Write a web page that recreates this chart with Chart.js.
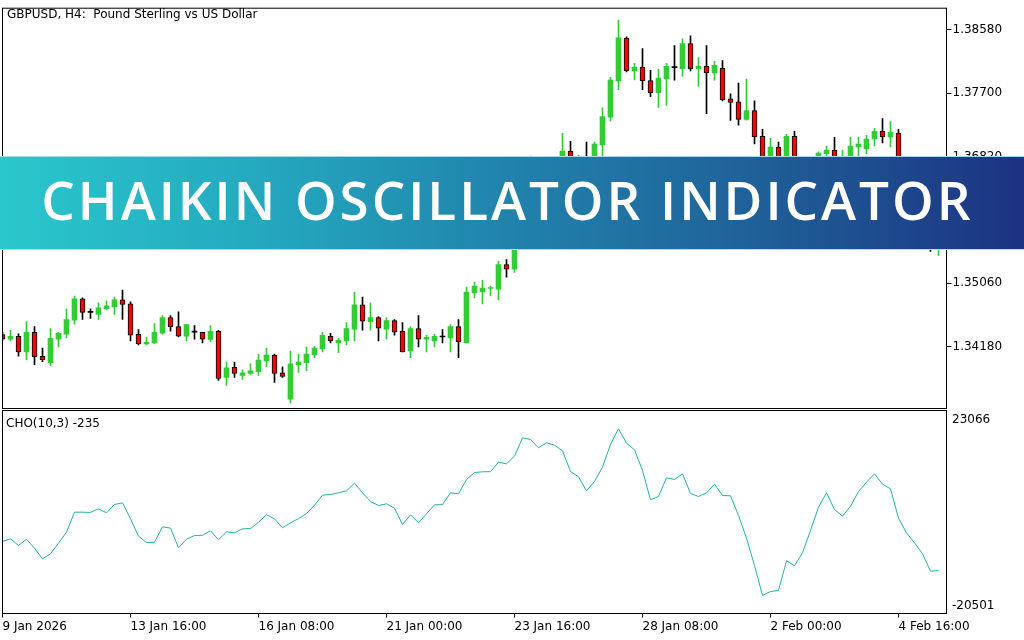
<!DOCTYPE html>
<html>
<head>
<meta charset="utf-8">
<script src="https://cdn.jsdelivr.net/npm/chart.js"></script>
<style>
html,body{margin:0;padding:0;background:#fff;width:1024px;height:640px;overflow:hidden;}
#wrap{position:relative;width:1024px;height:640px;background:#fff;}
canvas{position:absolute;left:0;top:0;}
.lbl{position:absolute;font-family:"DejaVu Sans";font-size:12px;line-height:14px;color:#000;white-space:pre;}
#banner{position:absolute;left:0;top:156px;width:1024px;height:94px;box-sizing:border-box;
  border-top:1px solid #a6d9e3;border-bottom:1px solid #b8d8e6;
  background:linear-gradient(to right,#2ac7cc 0%,#24a9bf 25%,#2182ab 50%,#1f5e97 75%,#1c3282 100%);z-index:5;}
#bannerText{position:absolute;left:44px;top:172px;font-family:"Open Sans";font-weight:600;font-size:53px;line-height:53px;height:53px;color:#fff;white-space:nowrap;z-index:6;}
</style>
</head>
<body>
<div id="wrap">
  <canvas id="main" width="1024" height="640"></canvas>
  <canvas id="sub" width="1024" height="640"></canvas>
  <div class="lbl" style="left:7px;top:7px">GBPUSD, H4:  Pound Sterling vs US Dollar</div>
  <div class="lbl" style="left:6px;top:416px">CHO(10,3) -235</div>
  <div id="banner"></div>
  <div id="bannerText">CHAIKIN OSCILLATOR INDICATOR</div>
</div>
<script>
// ---- data (GBPUSD H4 candles) ----
const opens = [1.34343,1.34282,1.34319,1.34104,1.34374,1.34041,1.33954,1.34282,1.34351,1.34543,
1.34840,1.34652,1.34625,1.34703,1.34730,1.34826,1.34771,1.34347,1.34214,1.34228,
1.34365,1.34580,1.34456,1.34323,1.34378,1.34374,1.34278,1.34388,1.33748,1.33891,
1.33775,1.33803,1.33830,1.33981,1.34059,1.33812,1.33447,1.33926,1.33954,1.34063,
1.34145,1.34319,1.34228,1.34255,1.34419,1.34758,1.34525,1.34580,1.34419,1.34539,
1.34388,1.34118,1.34429,1.34282,1.34255,1.34310,1.34296,1.34456,1.34228,1.34922,
1.34936,1.34985,1.34977,1.35319,1.35255,1.35621,1.35800,1.36450,1.36600,1.36700,
1.36500,1.36895,1.36720,1.36803,1.36785,1.36981,1.37365,1.37872,1.38466,1.38009,
1.38059,1.37877,1.37707,1.37899,1.38055,1.38042,1.38388,1.38042,1.38073,1.37981,
1.38046,1.37621,1.37580,1.37337,1.37457,1.37100,1.36700,1.36950,1.36760,1.37100,
1.36640,1.36740,1.36700,1.36858,1.36909,1.36650,1.36760,1.36954,1.36926,1.37063,
1.37169,1.37091,1.37142,1.36500,1.36200,1.35900,1.35650,1.35550];
const highs = [1.34374,1.34402,1.34356,1.34525,1.34456,1.34155,1.34429,1.34374,1.34703,1.34881,
1.34854,1.34703,1.34785,1.34813,1.34867,1.34963,1.34799,1.34415,1.34306,1.34497,
1.34607,1.34607,1.34662,1.34484,1.34470,1.34374,1.34470,1.34402,1.33963,1.33963,
1.33854,1.33936,1.34073,1.34155,1.34073,1.33895,1.34114,1.34073,1.34169,1.34182,
1.34374,1.34360,1.34292,1.34511,1.34936,1.34867,1.34785,1.34593,1.34580,1.34552,
1.34511,1.34456,1.34607,1.34333,1.34347,1.34415,1.34484,1.34552,1.35004,1.35073,
1.35100,1.35018,1.35361,1.35388,1.35676,1.35850,1.36826,1.36813,1.36785,1.36772,
1.37142,1.37032,1.36840,1.37019,1.37019,1.37498,1.37922,1.38717,1.38484,1.38114,
1.38320,1.38018,1.38032,1.38114,1.38361,1.38457,1.38498,1.38196,1.38361,1.38142,
1.38155,1.37690,1.37840,1.37895,1.37594,1.37196,1.37073,1.37022,1.37128,1.37169,
1.36789,1.36760,1.36885,1.36963,1.37087,1.36909,1.37087,1.37087,1.37114,1.37210,
1.37347,1.37306,1.37196,1.36560,1.36250,1.35980,1.35720,1.35700];
const lows = [1.34265,1.34255,1.34045,1.33995,1.33926,1.33967,1.33912,1.34173,1.34296,1.34488,
1.34556,1.34570,1.34556,1.34689,1.34625,1.34556,1.34255,1.34200,1.34200,1.34214,
1.34351,1.34392,1.34310,1.34255,1.34282,1.34228,1.34241,1.33707,1.33638,1.33748,
1.33721,1.33789,1.33775,1.33899,1.33680,1.33748,1.33392,1.33817,1.33844,1.34022,
1.34104,1.34228,1.34091,1.34200,1.34255,1.34406,1.34406,1.34255,1.34282,1.34337,
1.34104,1.34022,1.34173,1.34104,1.34173,1.34228,1.34104,1.34022,1.34228,1.34854,
1.34771,1.34881,1.34826,1.35141,1.35210,1.35560,1.35700,1.36300,1.36450,1.36400,
1.36420,1.36650,1.36680,1.36700,1.36740,1.36830,1.37310,1.37748,1.37995,1.37885,
1.37748,1.37653,1.37502,1.37529,1.37881,1.37936,1.38009,1.37799,1.37416,1.37881,
1.37594,1.37320,1.37255,1.37324,1.36995,1.36789,1.36600,1.36680,1.36700,1.36700,
1.36560,1.36620,1.36650,1.36800,1.36600,1.36580,1.36700,1.36760,1.36858,1.36968,
1.37009,1.36954,1.36450,1.36100,1.35800,1.35550,1.35500,1.35443];
const closes = [1.34282,1.34319,1.34104,1.34374,1.34036,1.33995,1.34292,1.34360,1.34552,1.34840,
1.34652,1.34652,1.34717,1.34744,1.34826,1.34762,1.34337,1.34214,1.34237,1.34374,
1.34580,1.34452,1.34323,1.34484,1.34378,1.34282,1.34388,1.33734,1.33881,1.33803,
1.33812,1.33840,1.33991,1.34059,1.33803,1.33762,1.33936,1.33963,1.34073,1.34155,
1.34333,1.34255,1.34265,1.34429,1.34758,1.34529,1.34580,1.34433,1.34539,1.34378,
1.34104,1.34429,1.34282,1.34306,1.34319,1.34310,1.34456,1.34241,1.34936,1.35018,
1.34991,1.34991,1.35319,1.35255,1.35621,1.35800,1.36450,1.36600,1.36700,1.36500,
1.36895,1.36720,1.36813,1.36803,1.36991,1.37374,1.37881,1.38470,1.38009,1.38059,
1.37872,1.37707,1.37909,1.38073,1.38055,1.38388,1.38042,1.38073,1.37981,1.38087,
1.37607,1.37570,1.37337,1.37457,1.37091,1.36817,1.36950,1.36750,1.37100,1.36750,
1.36740,1.36700,1.36868,1.36909,1.36650,1.36760,1.36963,1.36991,1.37063,1.37169,
1.37091,1.37155,1.36500,1.36200,1.35900,1.35650,1.35550,1.35620];
// Chaikin oscillator CHO(10,3)
const cho = [-5506,-4874,-6443,-4968,-7076,-9558,-8388,-5904,-3328,1356,
1356,1300,2152,1215,3159,3557,-190,-4265,-5741,-5700,
-2064,-2391,-6982,-4968,-4101,-4050,-3001,-5108,-3235,-3469,
-2532,-2480,-986,747,-190,-2298,-1127,-150,1051,2995,
5337,5501,5899,6368,8147,5899,3862,2925,3323,2292,
-1525,747,-1127,981,3089,3120,5899,5665,9014,10653,
10817,10850,13066,12691,14471,18780,18382,16438,17609,17047,
15736,10888,9646,6368,8546,11895,17281,20888,17515,15970,
11122,4260,5033,9412,9014,10349,5735,5033,5899,7913,
5267,5197,583,-4734,-11127,-18153,-17216,-16982,-10026,-11197,
-8152,-2930,2526,5899,1988,419,2761,6204,8382,10349,
7913,6836,-50,-3469,-5811,-8388,-12462,-12298];
const priceTicks = [1.34180,1.35060,1.35940,1.36820,1.37700,1.38580];
const choTicks = [-20501,23066];
const timeTickBars = [0,16,32,48,64,80,96,112];
const timeTickLabels = ["9 Jan 2026","13 Jan 16:00","16 Jan 08:00","21 Jan 00:00","23 Jan 16:00","28 Jan 08:00","2 Feb 00:00","4 Feb 16:00"];

// ---- presentation ----
const PRICE_MIN = 1.333165, PRICE_MAX = 1.3888155;
const CHO_MIN = -22369, CHO_MAX = 25174;
const BAR_SLOTS = 118;
const UP = '#32CD32', DOWN = '#FF0000', EDGE = '#000000';
const FONT = {family:'DejaVu Sans', size:12};
Chart.defaults.font.family = 'DejaVu Sans';

const dir = closes.map((c,i)=> c>opens[i] ? 1 : (c<opens[i] ? -1 : 0));

const frame = {
  id:'frame',
  afterDatasetsDraw(chart){
    const a = chart.chartArea, ctx = chart.ctx;
    ctx.save(); ctx.strokeStyle = '#000'; ctx.lineWidth = 1;
    ctx.strokeRect(a.left, a.top, a.right-a.left, a.bottom-a.top);
    ctx.restore();
  }
};

new Chart(document.getElementById('main'), {
  type:'bar',
  data:{datasets:[
    { // candle bodies
      data: opens.map((o,i)=>({x:i, y:[o, closes[i]]})),
      backgroundColor: dir.map(d=> d>0 ? UP : (d<0 ? DOWN : EDGE)),
      borderColor: dir.map(d=> d<0 ? EDGE : 'rgba(0,0,0,0)'),
      borderWidth: dir.map(d=> d<0 ? 1 : 0),
      borderSkipped:false, barThickness:5, minBarLength:1, grouped:false
    },
    { // wicks
      data: lows.map((l,i)=>({x:i, y:[l, highs[i]]})),
      backgroundColor: dir.map(d=> d>0 ? UP : EDGE),
      borderWidth:0, barThickness:1, grouped:false
    }
  ]},
  options:{
    responsive:false, animation:false, devicePixelRatio:1,
    layout:{padding:{left:2.5, top:2.5, right:0, bottom:231.5}},
    plugins:{legend:{display:false}, tooltip:{enabled:false}},
    scales:{
      x:{type:'linear', min:0, max:BAR_SLOTS, offset:false, display:false, grid:{offset:false}},
      y:{position:'right', min:PRICE_MIN, max:PRICE_MAX, beginAtZero:false,
         afterFit(s){ s.width = 77.5; },
         afterBuildTicks(s){ s.ticks = priceTicks.map(v=>({value:v})); },
         grid:{drawOnChartArea:false, drawTicks:true, tickLength:5, color:'#000'},
         border:{display:false},
         ticks:{padding:1, color:'#000', font:FONT, callback:v=>Number(v).toFixed(5)}}
    }
  },
  plugins:[frame]
});

new Chart(document.getElementById('sub'), {
  type:'line',
  data:{datasets:[{
    data: cho.map((v,i)=>({x:i, y:v})),
    borderColor:'#20B2AA', borderWidth:1, pointRadius:0, tension:0, fill:false
  }]},
  options:{
    responsive:false, animation:false, devicePixelRatio:1,
    layout:{padding:{left:2.5, top:410.5, right:0, bottom:0}},
    plugins:{legend:{display:false}, tooltip:{enabled:false}},
    scales:{
      x:{type:'linear', min:0, max:BAR_SLOTS, offset:false,
         afterFit(s){ s.height = 26.5; },
         afterBuildTicks(s){ s.ticks = timeTickBars.map(v=>({value:v})); },
         grid:{drawOnChartArea:false, drawTicks:true, tickLength:4, color:'#000'},
         border:{display:false},
         ticks:{align:'start', autoSkip:false, maxRotation:0, minRotation:0, padding:2, color:'#000', font:FONT,
                callback:v=>timeTickLabels[timeTickBars.indexOf(v)]}},
      y:{position:'right', min:CHO_MIN, max:CHO_MAX,
         afterFit(s){ s.width = 77.5; },
         afterBuildTicks(s){ s.ticks = choTicks.map(v=>({value:v})); },
         grid:{drawOnChartArea:false, drawTicks:false},
         border:{display:false},
         ticks:{padding:5.5, color:'#000', font:FONT, callback:v=>String(v)}}
    }
  },
  plugins:[frame]
});

// fit banner title to the reference text box (ink from x=44.3 to 970.7, baseline 219.5)
(function(){
  const el = document.getElementById('bannerText');
  const txt = el.textContent;
  const ctx = document.createElement('canvas').getContext('2d');
  ctx.font = '600 53px "Open Sans"';
  const m = ctx.measureText(txt);
  const inkW = m.actualBoundingBoxLeft + m.actualBoundingBoxRight;
  const ls = (926.4 - inkW) / (txt.length - 1);
  el.style.letterSpacing = ls + 'px';
  el.style.left = (44.3 + m.actualBoundingBoxLeft) + 'px';
  const fA = m.fontBoundingBoxAscent, fD = m.fontBoundingBoxDescent;
  const top = 219.5 - (53 - (fA + fD)) / 2 - fA;
  el.style.top = top + 'px';
})();
</script>
</body>
</html>
